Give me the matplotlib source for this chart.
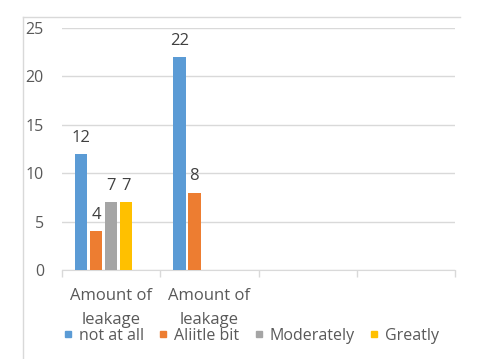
import matplotlib
matplotlib.use("Agg")
import matplotlib.pyplot as plt
import numpy as np
from matplotlib.lines import Line2D

categories = ["Amount of\nleakage", "Amount of\nleakage", "", ""]
series_names = ["not at all", "Aliitle bit", "Moderately", "Greatly"]
not_at_all = [12, 22, np.nan, np.nan]
a_little_bit = [4, 8, np.nan, np.nan]
moderately = [7, np.nan, np.nan, np.nan]
greatly = [7, np.nan, np.nan, np.nan]
colors = ["#5b9bd5", "#ed7d31", "#a5a5a5", "#ffc000"]

plt.rcParams['font.family'] = ['Open Sans', 'DejaVu Sans']
text_col = "#595959"

fig = plt.figure(figsize=(4.83, 3.59), dpi=100)
ax = fig.add_axes([62/483, 89/359, 393/483, 242/359])

# outer chart frame (top and left edges only visible)
fig.add_artist(Line2D([23/483, 460/483], [1 - 17/359, 1 - 17/359], color="#d9d9d9", lw=1))
fig.add_artist(Line2D([23/483, 23/483], [0, 1 - 17/359], color="#d9d9d9", lw=1))

x = np.arange(len(categories))
slot = 0.153
all_series = [not_at_all, a_little_bit, moderately, greatly]
for i, (vals, c, name) in enumerate(zip(all_series, colors, series_names)):
    pos = x - 2.5 * slot + (i + 0.5) * slot
    ax.bar(pos, vals, width=0.128, color=c, label=name, zorder=3)
    for p, v in zip(pos, vals):
        if not np.isnan(v):
            ax.text(p, v + 0.85, str(v), ha="center", va="bottom", fontsize=12, color="#404040")

ax.set_xlim(-0.5, 3.5)
ax.set_ylim(0, 25)
ax.set_yticks([0, 5, 10, 15, 20, 25])
ax.yaxis.grid(True, color="#d9d9d9", lw=1, zorder=0)
ax.tick_params(axis="y", length=0, pad=13, labelsize=11.5, labelcolor=text_col)
ax.set_xticks(x)
ax.set_xticklabels(categories, linespacing=1.65)
ax.tick_params(axis="x", which="major", length=0, pad=13, labelsize=12, labelcolor=text_col)
ax.set_xticks(np.arange(-0.5, 4, 1), minor=True)
ax.tick_params(axis="x", which="minor", length=5, color="#d9d9d9", width=1)
for s in ["top", "right", "left"]:
    ax.spines[s].set_visible(False)
ax.spines["bottom"].set_color("#d9d9d9")

handles = [Line2D([], [], marker="s", color=c, linestyle="", markersize=5) for c in colors]
fig.legend(handles, series_names, loc="center", bbox_to_anchor=(251/483, 23/359), ncol=4,
           frameon=False, fontsize=11.5, labelcolor=text_col, handlelength=0.6,
           handletextpad=0.4, columnspacing=0.9)

fig.savefig("out.png", dpi=100)
